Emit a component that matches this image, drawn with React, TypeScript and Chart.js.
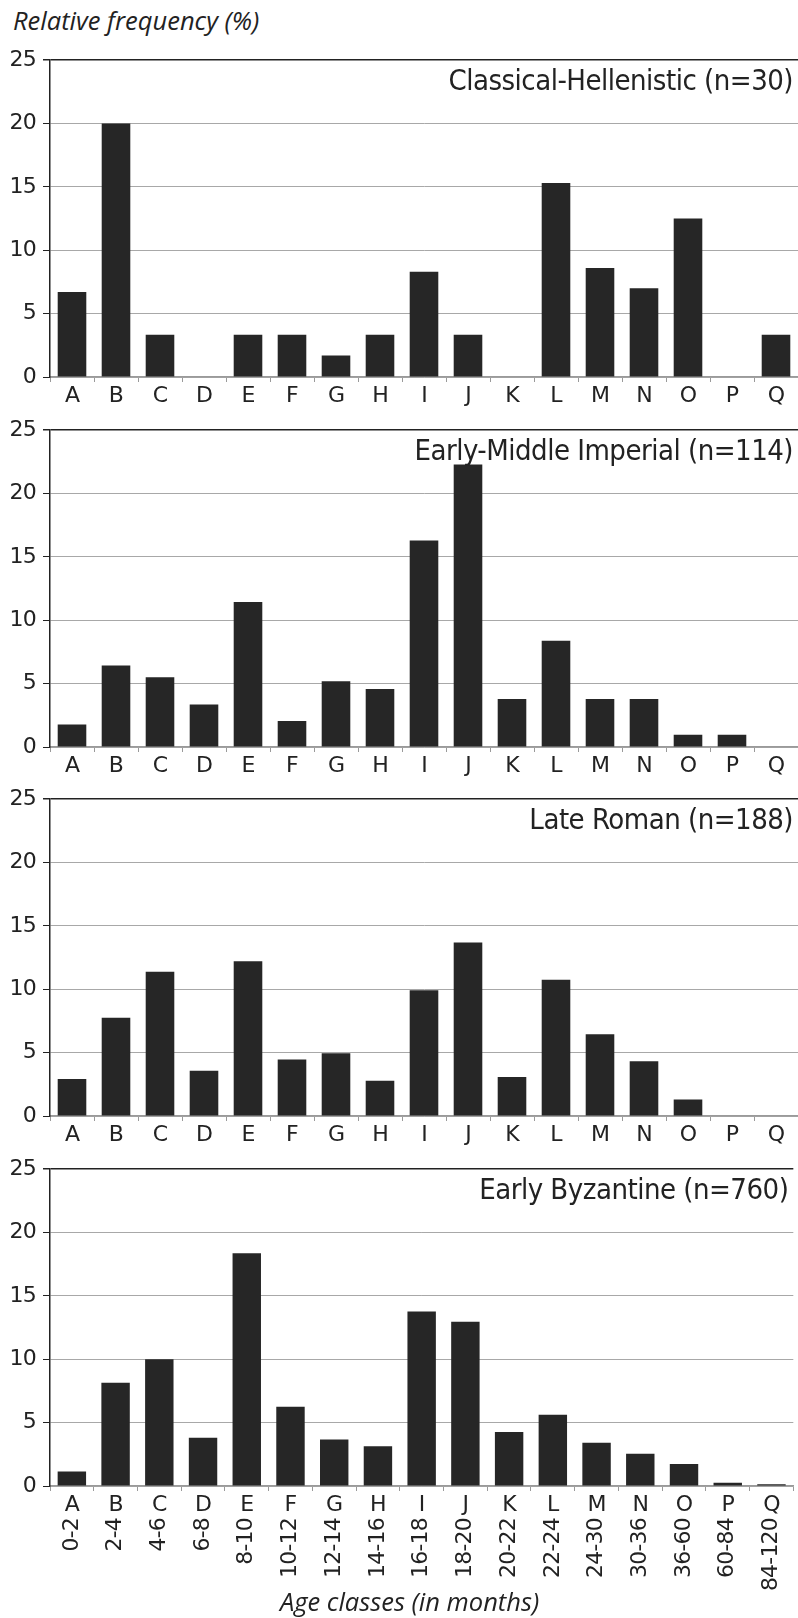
import React, { useEffect, useRef } from 'react';
import { Chart, registerables } from 'chart.js';

Chart.register(...registerables);

const letters = ['A', 'B', 'C', 'D', 'E', 'F', 'G', 'H', 'I', 'J', 'K', 'L', 'M', 'N', 'O', 'P', 'Q'];
const ageRanges = ['0-2', '2-4', '4-6', '6-8', '8-10', '10-12', '12-14', '14-16', '16-18', '18-20', '20-22', '22-24', '24-30', '30-36', '36-60', '60-84', '84-120'];
const yTicks = [0, 5, 10, 15, 20, 25];

const classicalHellenistic = [6.7, 20, 3.33, 0, 3.33, 3.33, 1.7, 3.33, 8.3, 3.33, 0, 15.3, 8.6, 7.0, 12.5, 0, 3.33];
const earlyMiddleImperial = [1.77, 6.44, 5.5, 3.36, 11.45, 2.06, 5.19, 4.58, 16.3, 22.3, 3.78, 8.39, 3.78, 3.78, 0.97, 0.97, 0];
const lateRoman = [2.92, 7.76, 11.38, 3.57, 12.21, 4.45, 4.95, 2.79, 9.92, 13.7, 3.07, 10.76, 6.46, 4.32, 1.3, 0, 0];
const earlyByzantine = [1.15, 8.15, 10.0, 3.8, 18.36, 6.25, 3.67, 3.13, 13.77, 12.97, 4.27, 5.63, 3.41, 2.55, 1.74, 0.26, 0.13];

const panelTitles = ['Classical-Hellenistic (n=30)', 'Early-Middle Imperial (n=114)', 'Late Roman (n=188)', 'Early Byzantine (n=760)'];
const panelSeries = [classicalHellenistic, earlyMiddleImperial, lateRoman, earlyByzantine];

const FONT = '"DejaVu Sans", sans-serif';
const TITLE_FONT = '"DejaVu Sans Condensed", "DejaVu Sans", sans-serif';
const ITALIC_FONT = '"Open Sans", Lato, sans-serif';
const TEXT = '#222222';
const PAD_TOP = 17;
const PLOT_H = 320;
const PANEL_TOPS = [57, 427, 796, 1166];

const panelTitlePlugin = {
  id: 'panelTitle',
  beforeDraw(chart: any) {
    try { (chart.ctx as any).letterSpacing = '-0.8px'; } catch (e) { /* ignore */ }
  },
  afterDraw(chart: any, _args: any, opts: any) {
    const { ctx, chartArea } = chart;
    ctx.save();
    ctx.font = `29px ${TITLE_FONT}`;
    ctx.fillStyle = TEXT;
    ctx.textAlign = 'right';
    ctx.textBaseline = 'alphabetic';
    try { (ctx as any).letterSpacing = '-0.5px'; } catch (e) { /* ignore */ }
    ctx.fillText(opts.text, chartArea.right - 5, chartArea.top + 30);
    ctx.restore();
  },
};

function Panel({ index, showRanges }: { index: number; showRanges: boolean }) {
  const ref = useRef<HTMLCanvasElement | null>(null);
  const top = PANEL_TOPS[index] - PAD_TOP;
  const letterAxisH = showRanges ? 32 : 33;
  const rangeAxisH = 80;
  const height = PAD_TOP + PLOT_H + letterAxisH + (showRanges ? rangeAxisH : 0);

  useEffect(() => {
    let chart: any = null;
    let cancelled = false;
    const build = () => {
      if (cancelled || !ref.current) return;
      const scales: any = {
        x: {
          type: 'category',
          position: 'bottom',
          offset: true,
          weight: 0,
          grid: { offset: true, drawOnChartArea: false, drawTicks: true, tickLength: 5, color: '#9a9a9a', lineWidth: 1 },
          border: { display: true, color: '#9a9a9a', width: 1.5 },
          ticks: { font: { family: FONT, size: 22 }, color: TEXT, padding: 1, maxRotation: 0, minRotation: 0, autoSkip: false },
          afterFit: (s: any) => { s.height = letterAxisH; },
        },
        y: {
          min: 0,
          max: 25,
          afterBuildTicks: (s: any) => { s.ticks = yTicks.map((v) => ({ value: v })); },
          ticks: { font: { family: FONT, size: 22 }, color: TEXT, padding: 7 },
          grid: {
            color: (c: any) => (c.tick && c.tick.value === 25 ? '#222222' : '#a8a8a8'),
            lineWidth: (c: any) => (c.tick && c.tick.value === 25 ? 1.5 : 1),
            tickColor: '#222222',
            tickLength: 7,
          },
          border: { color: '#222222', width: 1.5 },
          afterFit: (s: any) => { s.width = 50; },
        },
      };
      if (showRanges) {
        scales.x2 = {
          type: 'category',
          labels: ageRanges,
          position: 'bottom',
          offset: true,
          weight: 1,
          grid: { display: false, drawTicks: false },
          border: { display: false },
          ticks: { font: { family: FONT, size: 22 }, color: TEXT, padding: 0, maxRotation: 90, minRotation: 90, autoSkip: false },
          afterFit: (s: any) => { s.height = rangeAxisH; },
        };
      }
      chart = new Chart(ref.current, {
        type: 'bar',
        data: {
          labels: letters,
          datasets: [
            {
              data: panelSeries[index],
              backgroundColor: '#262626',
              borderWidth: 0,
              barPercentage: 0.65,
              categoryPercentage: 1,
            },
          ],
        },
        options: {
          animation: false,
          responsive: false,
          maintainAspectRatio: false,
          devicePixelRatio: 1,
          layout: { padding: { top: PAD_TOP, left: 0, right: 0, bottom: 0 } },
          plugins: {
            legend: { display: false },
            tooltip: { enabled: false },
            title: { display: false },
            panelTitle: { text: panelTitles[index] },
          } as any,
          scales,
        },
        plugins: [panelTitlePlugin],
      } as any);
    };
    const fonts = (document as any).fonts;
    if (fonts && fonts.load) {
      Promise.all([
        fonts.load(`22px "DejaVu Sans"`),
        fonts.load(`29px "DejaVu Sans Condensed"`),
        fonts.load(`italic 25px "Open Sans"`),
      ]).then(build, build);
    } else {
      build();
    }
    return () => {
      cancelled = true;
      if (chart) chart.destroy();
    };
  }, [index, showRanges]);

  return (
    <canvas
      ref={ref}
      width={798}
      height={height}
      style={{ position: 'absolute', left: 0, top, width: 798, height }}
    />
  );
}

export default function App() {
  return (
    <div style={{ position: 'absolute', left: 0, top: 0, width: 798, height: 1618, background: '#ffffff', overflow: 'hidden' }}>
      <div
        style={{
          position: 'absolute', left: 13, top: 3, fontFamily: ITALIC_FONT, fontStyle: 'italic', fontSize: 25.5,
          lineHeight: '35px', color: TEXT, whiteSpace: 'nowrap',
        }}
      >
        Relative frequency (%)
      </div>
      {panelSeries.map((_, i) => (
        <Panel key={i} index={i} showRanges={i === panelSeries.length - 1} />
      ))}
      <div
        style={{
          position: 'absolute', left: 280, top: 1584, fontFamily: ITALIC_FONT, fontStyle: 'italic', fontSize: 25.5,
          lineHeight: '35px', color: TEXT, whiteSpace: 'nowrap',
        }}
      >
        Age classes (in months)
      </div>
    </div>
  );
}
